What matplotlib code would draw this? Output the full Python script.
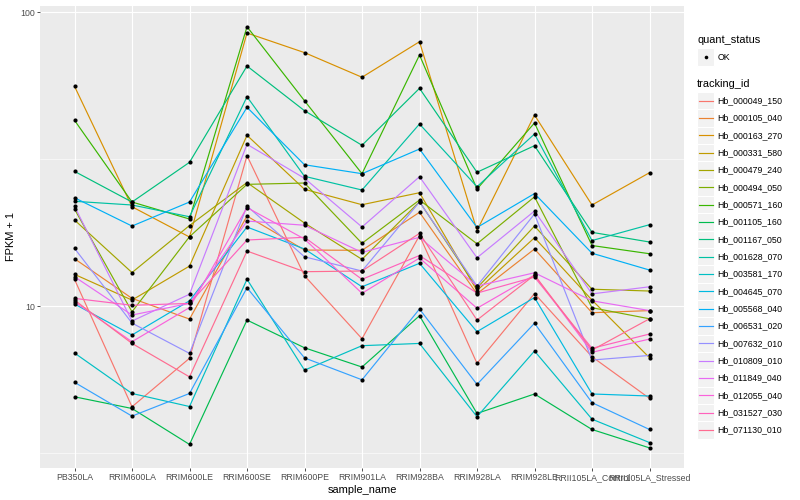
import matplotlib
matplotlib.use("Agg")
import matplotlib.pyplot as plt
from matplotlib.patches import Rectangle

plt.rcParams['font.family'] = ['Liberation Sans', 'DejaVu Sans']

samples = ["PB350LA", "RRIM600LA", "RRIM600LE", "RRIM600SE", "RRIM600PE",
           "RRIM901LA", "RRIM928BA", "RRIM928LA", "RRIM928LE",
           "RRII105LA_Control", "RRII105LA_Stressed"]

tracking_ids = ["Hb_000049_150", "Hb_000105_040", "Hb_000163_270", "Hb_000331_580",
                "Hb_000479_240", "Hb_000494_050", "Hb_000571_160", "Hb_001105_160",
                "Hb_001167_050", "Hb_001628_070", "Hb_003581_170", "Hb_004645_070",
                "Hb_005568_040", "Hb_006531_020", "Hb_007632_010", "Hb_010809_010",
                "Hb_011849_040", "Hb_012055_040", "Hb_031527_030", "Hb_071130_010"]

colors = ["#F8766D", "#EA8331", "#D89000", "#C09B00", "#A3A500", "#7CAE00",
          "#39B600", "#00BB4E", "#00BF7D", "#00C1A3", "#00BFC4", "#00BAE0",
          "#00B0F6", "#35A2FF", "#9590FF", "#C77CFF", "#E76BF3", "#FA62DB",
          "#FF62BC", "#FF6C91"]

# FPKM + 1 per sample (same order as samples)
hb_000049_150 = [12.33, 4.54, 6.64, 32.5, 12.68, 7.74, 17.38, 6.38, 11.03, 6.72, 4.85]
hb_000105_040 = [14.49, 10.62, 9.03, 20.25, 15.51, 15.48, 20.85, 11.01, 15.64, 9.49, 9.65]
hb_000163_270 = [55.98, 21.78, 17.18, 85.0, 72.9, 60.1, 79.4, 18.07, 44.7, 22.08, 28.44]
hb_000331_580 = [12.82, 10.48, 13.68, 38.13, 24.97, 22.13, 24.31, 11.29, 17.09, 10.48, 6.67]
hb_000479_240 = [19.63, 13.0, 18.80, 26.33, 19.17, 14.42, 22.65, 11.52, 18.72, 11.41, 11.25]
hb_000494_050 = [21.39, 9.56, 17.22, 25.96, 26.23, 16.35, 22.96, 16.29, 23.54, 9.87, 9.05]
hb_000571_160 = [42.89, 22.60, 19.78, 89.3, 50.0, 28.22, 71.55, 25.02, 42.0, 16.07, 15.07]
hb_001105_160 = [4.91, 4.48, 3.38, 8.96, 7.21, 6.20, 9.27, 4.31, 5.02, 3.80, 3.29]
hb_001167_050 = [28.74, 22.60, 30.85, 65.64, 46.24, 35.26, 55.10, 28.54, 35.15, 17.82, 16.52]
hb_001628_070 = [22.73, 22.08, 20.14, 51.6, 27.65, 24.83, 41.66, 25.48, 38.52, 16.71, 18.92]
hb_003581_170 = [6.92, 5.04, 4.55, 12.34, 6.05, 7.33, 7.46, 4.20, 7.03, 4.12, 3.43]
hb_004645_070 = [10.16, 7.97, 10.42, 18.58, 15.64, 11.63, 13.98, 8.18, 10.69, 5.02, 4.94]
hb_005568_040 = [23.37, 18.72, 22.60, 47.48, 30.27, 28.22, 34.24, 18.51, 24.15, 15.13, 13.26]
hb_006531_020 = [5.50, 4.22, 5.04, 11.54, 6.66, 5.61, 9.77, 5.41, 8.74, 4.69, 3.80]
hb_007632_010 = [15.72, 8.75, 6.90, 21.90, 14.71, 13.16, 22.60, 11.70, 20.57, 6.55, 6.79]
hb_010809_010 = [21.85, 8.89, 10.97, 35.53, 27.22, 18.58, 27.56, 14.60, 21.06, 11.00, 11.63]
hb_011849_040 = [12.58, 9.32, 10.21, 19.47, 18.84, 15.23, 17.14, 11.70, 12.98, 10.42, 9.65]
hb_012055_040 = [10.34, 7.56, 9.88, 21.64, 16.91, 11.05, 14.57, 9.83, 12.75, 6.96, 7.72]
hb_031527_030 = [10.62, 10.06, 10.21, 16.78, 17.14, 12.33, 14.86, 11.07, 12.55, 7.18, 8.03]
hb_071130_010 = [10.48, 7.46, 5.74, 15.39, 13.09, 13.16, 17.68, 8.96, 12.75, 7.08, 9.05]

series = [hb_000049_150, hb_000105_040, hb_000163_270, hb_000331_580, hb_000479_240,
          hb_000494_050, hb_000571_160, hb_001105_160, hb_001167_050, hb_001628_070,
          hb_003581_170, hb_004645_070, hb_005568_040, hb_006531_020, hb_007632_010,
          hb_010809_010, hb_011849_040, hb_012055_040, hb_031527_030, hb_071130_010]

W, H = 800, 500
fig = plt.figure(figsize=(8, 5), dpi=100)
fig.patch.set_facecolor("white")

left, right, top, bottom = 40, 684, 5.7, 468
ax = fig.add_axes([left / W, 1 - bottom / H, (right - left) / W, (bottom - top) / H])
ax.set_facecolor("#EBEBEB")

xs = list(range(len(samples)))
for vals, col in zip(series, colors):
    ax.plot(xs, vals, color=col, lw=0.85, zorder=2, solid_capstyle="butt")
for vals in series:
    ax.plot(xs, vals, linestyle="none", marker="o", ms=3.0, color="black",
            markeredgewidth=0, zorder=3)

ax.set_yscale("log")
ax.set_ylim(2.81, 105.3)
ax.set_xlim(-0.6, 10.6)
ax.set_yticks([10, 100])
ax.set_yticklabels(["10", "100"])
ax.set_yticks([10 ** 0.5, 10 ** 1.5], minor=True)
ax.yaxis.set_minor_formatter(plt.NullFormatter())
ax.set_xticks(xs)
ax.set_xticklabels(samples)

ax.grid(True, which="major", color="white", lw=0.8, zorder=0)
ax.grid(True, which="minor", axis="y", color="white", lw=0.4, zorder=0)
ax.set_axisbelow(True)
for s in ax.spines.values():
    s.set_visible(False)

ax.tick_params(axis="both", which="major", length=2.0, width=0.6, color="#333333",
               labelsize=6.3, labelcolor="#4D4D4D", pad=1.6)
ax.tick_params(axis="y", which="minor", length=0)

ax.set_xlabel("sample_name", fontsize=7.9, labelpad=2)
ax.set_ylabel("FPKM + 1", fontsize=7.9, labelpad=3)

# Legend drawn in pixel coordinates on an overlay
ov = fig.add_axes([0, 0, 1, 1], facecolor="none")
ov.set_xlim(0, W)
ov.set_ylim(H, 0)
ov.axis("off")

kx, kw = 697, 17.3
ov.text(kx, 40, "quant_status", fontsize=7.9, va="center", ha="left")
ov.add_patch(Rectangle((kx, 57 - kw / 2), kw, kw, facecolor="#F2F2F2", edgecolor="white", lw=0.8))
ov.plot([kx + kw / 2], [57], marker="o", ms=2.6, color="black", markeredgewidth=0)
ov.text(kx + kw + 3, 57, "OK", fontsize=6.3, va="center", ha="left")

ov.text(kx, 84.3, "tracking_id", fontsize=7.9, va="center", ha="left")
y0, dy = 100.7, 17.33
for i, (tid, col) in enumerate(zip(tracking_ids, colors)):
    yc = y0 + i * dy
    ov.add_patch(Rectangle((kx, yc - kw / 2), kw, kw, facecolor="#F2F2F2", edgecolor="white", lw=0.8))
    ov.plot([kx + 1.7, kx + kw - 1.7], [yc, yc], color=col, lw=0.85)
    ov.text(kx + kw + 3, yc, tid, fontsize=6.3, va="center", ha="left")

fig.savefig("out.png", dpi=100)
